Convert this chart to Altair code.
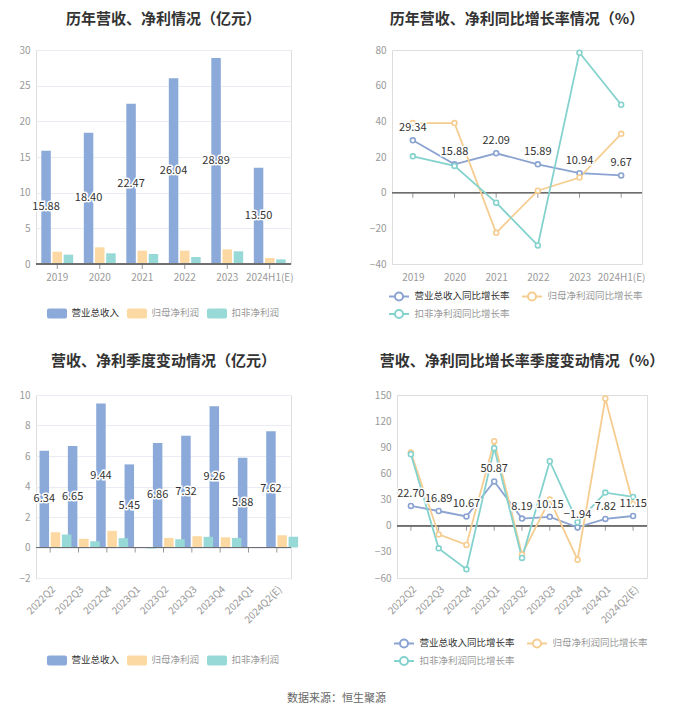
import altair as alt
import pandas as pd

FONT = "Noto Sans CJK SC"

years = ["2019", "2020", "2021", "2022", "2023", "2024H1(E)"]
rev_year = [15.88, 18.40, 22.47, 26.04, 28.89, 13.50]
np_year = [1.73, 2.34, 1.87, 1.87, 2.05, 0.84]
dnp_year = [1.31, 1.50, 1.40, 0.98, 1.78, 0.65]

rev_g_year = [29.34, 15.88, 22.09, 15.89, 10.94, 9.67]
np_g_year = [39.0, 39.0, -22.5, 1.1, 8.5, 33.0]
dnp_g_year = [20.4, 15.0, -5.6, -29.6, 78.5, 49.3]

quarters = ["2022Q2", "2022Q3", "2022Q4", "2023Q1", "2023Q2", "2023Q3", "2023Q4", "2024Q1", "2024Q2(E)"]
rev_q = [6.34, 6.65, 9.44, 5.45, 6.86, 7.32, 9.26, 5.88, 7.62]
np_q = [1.00, 0.57, 1.09, 0.01, 0.63, 0.74, 0.67, 0.01, 0.80]
dnp_q = [0.85, 0.41, 0.61, -0.07, 0.54, 0.70, 0.63, -0.03, 0.70]

rev_g_q = [22.70, 16.89, 10.67, 50.87, 8.19, 10.15, -1.94, 7.82, 11.15]
np_g_q = [84, -10, -22, 97, -33, 30, -39, 146, 25]
dnp_g_q = [82, -26, -50, 89, -37, 74, 4, 38, 33]

bar_series = ["营业总收入", "归母净利润", "扣非净利润"]
line_series = ["营业总收入同比增长率", "归母净利润同比增长率", "扣非净利润同比增长率"]

BAR_COLORS = ["#8caad9", "#fcd9a2", "#97d9d6"]
LINE_COLORS = ["#8aa3d0", "#f6cd91", "#84d2cd"]

RECT_PATH = ("M-1.2,-0.75H1.2A0.3,0.3,0,0,1,1.5,-0.45V0.45A0.3,0.3,0,0,1,1.2,0.75"
             "H-1.2A0.3,0.3,0,0,1,-1.5,0.45V-0.45A0.3,0.3,0,0,1,-1.2,-0.75Z")
LINE_PATH = "M-1.5,0H-0.6M0.6,0H1.5M-0.6,0A0.6,0.6,0,1,1,0.6,0A0.6,0.6,0,1,1,-0.6,0"
SYM_SIZE = 178


def long_df(cats, series, arrays):
    rows = []
    for s, arr in zip(series, arrays):
        for c, v in zip(cats, arr):
            rows.append({"cat": c, "series": s, "value": v})
    return pd.DataFrame(rows)


def y_axis(ymin, ymax, step):
    return alt.Axis(
        values=list(range(ymin, ymax + 1, step)),
        domain=False, ticks=False, gridColor="#e9edf3", gridWidth=1,
        labelColor="#999999", labelFontSize=10, labelFont=FONT, labelOverlap=False,
        labelPadding=6, minExtent=27, maxExtent=27,
    )


def y_scale(ymin, ymax):
    return alt.Scale(domain=[ymin, ymax], nice=False)


def x_axis(angle):
    return alt.Axis(
        labelAngle=angle, domain=False, ticks=False, grid=False, labelOverlap=False,
        labelColor="#999999", labelFontSize=10, labelFont=FONT,
        labelPadding=8 if angle == 0 else 6,
    )


def title_params(text, offset):
    return alt.TitleParams(text, fontSize=15, fontWeight="bold", color="#333333",
                           font=FONT, anchor="middle", frame="group", offset=offset)


def zero_layers(cats, x, ax, sc):
    base = pd.DataFrame({"cat": cats})
    rule = alt.Chart(base).mark_rule(color="#6e6e6e", strokeWidth=1).encode(
        y=alt.Y(datum=0, axis=ax, scale=sc, title=None))
    ticks = alt.Chart(base).mark_tick(color="#6e6e6e", thickness=1, size=5, orient="vertical", yOffset=2.5).encode(
        x=x, y=alt.Y(datum=0, axis=ax, scale=sc, title=None))
    return rule, ticks


def bar_panel(cats, arrays, title, w, h, ymin, ymax, step, angle, lx, ly, toff):
    df = long_df(cats, bar_series, arrays)
    ax = y_axis(ymin, ymax, step)
    sc = y_scale(ymin, ymax)
    x = alt.X("cat:N", sort=cats, title=None,
              scale=alt.Scale(paddingInner=0.25, paddingOuter=0.125), axis=x_axis(angle))
    xo = alt.XOffset("series:N", sort=bar_series, scale=alt.Scale(domain=bar_series, paddingInner=0.15))
    color = alt.Color(
        "series:N", sort=bar_series,
        scale=alt.Scale(domain=bar_series, range=BAR_COLORS),
        legend=alt.Legend(
            title=None, orient="none", legendX=lx, legendY=ly, direction="horizontal",
            symbolType=RECT_PATH, symbolSize=SYM_SIZE, symbolStrokeWidth=0,
            labelFontSize=9.5, labelFont=FONT, labelOffset=7.5, columnPadding=6,
            labelColor={"expr": "datum.value == '营业总收入' ? '#333333' : '#999999'"},
        ),
    )
    bars = alt.Chart(df).mark_bar().encode(
        x=x, xOffset=xo, y=alt.Y("value:Q", axis=ax, scale=sc, title=None), color=color)
    lab = alt.Chart(df).transform_filter(alt.datum.series == bar_series[0]).transform_calculate(
        mid="datum.value / 2", txt="format(datum.value, '.2f')")
    ymid = alt.Y("mid:Q", axis=ax, scale=sc, title=None)
    halo = lab.mark_text(fontSize=11, font=FONT, color="white", stroke="white", strokeWidth=3).encode(
        x=x, xOffset=xo, y=ymid, text="txt:N")
    txt = lab.mark_text(fontSize=11, font=FONT, color="#333333").encode(
        x=x, xOffset=xo, y=ymid, text="txt:N")
    rule, ticks = zero_layers(cats, x, ax, sc)
    return alt.layer(bars, rule, ticks, halo, txt).properties(width=w, height=h, title=title_params(title, toff))


def line_panel(cats, arrays, title, w, h, ymin, ymax, step, angle, lx, ly, toff):
    df = long_df(cats, line_series, arrays)
    ax = y_axis(ymin, ymax, step)
    sc = y_scale(ymin, ymax)
    x = alt.X("cat:N", sort=cats, title=None, scale=alt.Scale(type="point", padding=0.5), axis=x_axis(angle))
    color = alt.Color(
        "series:N", sort=line_series,
        scale=alt.Scale(domain=line_series, range=LINE_COLORS),
        legend=alt.Legend(
            title=None, orient="none", legendX=lx, legendY=ly, direction="horizontal", columns=2,
            symbolType=LINE_PATH, symbolSize=SYM_SIZE, symbolStrokeWidth=2, symbolFillColor="white",
            labelFontSize=9.5, labelFont=FONT, labelOffset=7.5, columnPadding=7, rowPadding=0,
            labelColor={"expr": "datum.value == '营业总收入同比增长率' ? '#333333' : '#999999'"},
        ),
    )
    y = alt.Y("value:Q", axis=ax, scale=sc, title=None)
    rule, ticks = zero_layers(cats, x, ax, sc)
    lines = alt.Chart(df).mark_line(strokeWidth=1.8).encode(x=x, y=y, color=color)
    pts = alt.Chart(df).mark_point(filled=False, fill="white", fillOpacity=1, opacity=1, size=24,
                                   strokeWidth=1.6).encode(x=x, y=y, color=color)
    lab = alt.Chart(df).transform_filter(alt.datum.series == line_series[0]).transform_calculate(
        txt="format(datum.value, '.2f')")
    halo = lab.mark_text(fontSize=11, font=FONT, color="white", stroke="white", strokeWidth=3, dy=-12).encode(
        x=x, y=y, text="txt:N")
    txt = lab.mark_text(fontSize=11, font=FONT, color="#333333", dy=-12).encode(
        x=x, y=y, text="txt:N")
    return alt.layer(rule, ticks, lines, pts, halo, txt).properties(width=w, height=h, title=title_params(title, toff))


p1 = bar_panel(years, [rev_year, np_year, dnp_year], "历年营收、净利情况（亿元）",
               255, 214, 0, 30, 5, 0, 14, 256, 18)
p2 = line_panel(years, [rev_g_year, np_g_year, dnp_g_year], "历年营收、净利同比增长率情况（%）",
                250, 214, -40, 80, 20, 0, -1, 238, 18)
p3 = bar_panel(quarters, [rev_q, np_q, dnp_q], "营收、净利季度变动情况（亿元）",
               255, 183, -2, 10, 2, -45, 14, 258, 21)
p4 = line_panel(quarters, [rev_g_q, np_g_q, dnp_g_q], "营收、净利同比增长率季度变动情况（%）",
                250, 183, -60, 150, 30, -45, -1, 240, 21)

row1 = alt.hconcat(p1, p2, spacing=70).resolve_scale(color="independent", x="independent", y="independent")
row2 = alt.hconcat(p3, p4, spacing=70).resolve_scale(color="independent", x="independent", y="independent")

chart = alt.vconcat(row1, row2, spacing=29).resolve_scale(
    color="independent", x="independent", y="independent"
).properties(
    title=alt.TitleParams("数据来源：恒生聚源", orient="bottom", anchor="middle", fontSize=11,
                          font=FONT, fontWeight="normal", color="#666666", offset=22),
    padding={"left": 0, "top": 3, "right": 0, "bottom": 0},
).configure_view(stroke=None).configure(font=FONT, background="white")

chart.save("out.html", embed_options={"renderer": "svg", "actions": False})
